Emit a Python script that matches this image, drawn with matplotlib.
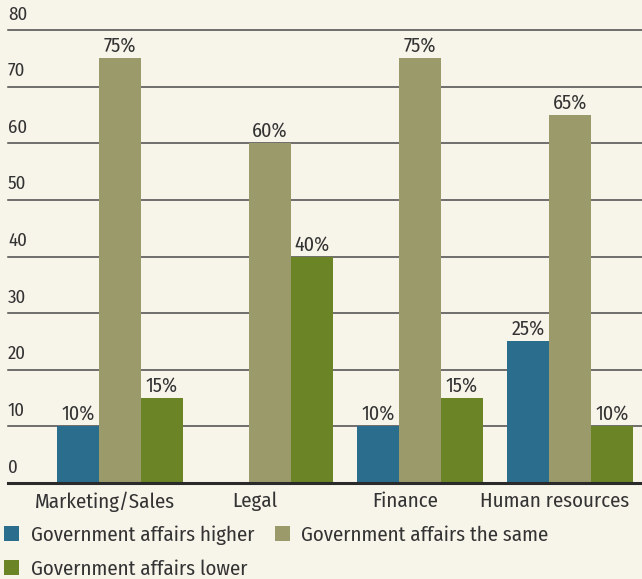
import matplotlib.pyplot as plt
import matplotlib.transforms as mtransforms
import numpy as np

plt.rcParams["font.family"] = ["Fira Sans Condensed", "DejaVu Sans"]

categories = ["Marketing/Sales", "Legal", "Finance", "Human resources"]
higher = [10, 0, 10, 25]
same = [75, 60, 75, 65]
lower = [15, 40, 15, 10]
series_names = [
    "Government affairs higher",
    "Government affairs the same",
    "Government affairs lower",
]
y_ticks = [0, 10, 20, 30, 40, 50, 60, 70, 80]

bg = "#f7f4ea"
colors = ["#2b6d8c", "#9b9a6a", "#6a8426"]
text_color = "#333333"

fig = plt.figure(figsize=(6.42, 5.79), dpi=100, facecolor=bg)
ax = fig.add_axes([8 / 642, 96 / 579, 634 / 642, 453 / 579], facecolor=bg)

x = np.arange(len(categories))
width = 0.28
series = [higher, same, lower]

# gridlines behind bars
for v in y_ticks[1:]:
    ax.axhline(v, color="#4a4a4a", lw=1.1, zorder=1, clip_on=False)
ax.axhline(0, color="#2a2a2a", lw=2.2, zorder=4, clip_on=False)

for i, (vals, c, name) in enumerate(zip(series, colors, series_names)):
    pos = x + (i - 1) * width
    ax.bar(pos, vals, width, color=c, label=name, zorder=2, linewidth=0)
    for p, v in zip(pos, vals):
        if v > 0:
            ax.text(p, v + 0.4, f"{v}%", ha="center", va="bottom",
                    fontsize=14.5, color=text_color, zorder=3)

ax.set_xlim(-0.747, 3.48)
ax.set_ylim(0, 80)

# y labels sit above each gridline, left aligned
trans = mtransforms.blended_transform_factory(ax.transAxes, ax.transData)
for v in y_ticks:
    ax.text(0, v + 1.2, str(v), transform=trans, ha="left", va="bottom",
            fontsize=13.5, color=text_color)

ax.set_yticks([])
ax.set_xticks(x - 0.1)
ax.set_xticklabels(categories, fontsize=15, color=text_color)
ax.tick_params(axis="x", length=0, pad=6)
for s in ax.spines.values():
    s.set_visible(False)

handles, labels = ax.get_legend_handles_labels()
order = [0, 2, 1]
fig.legend([handles[k] for k in order], [labels[k] for k in order],
           loc="upper left", bbox_to_anchor=(0.0, 1 - 521 / 579), ncol=2,
           frameon=False, fontsize=15, handlelength=0.72, handleheight=0.72,
           handletextpad=0.55, columnspacing=1.0, labelspacing=0.7,
           borderaxespad=0, borderpad=0.2, labelcolor=text_color)

plt.savefig("out.png", dpi=100, facecolor=bg)
